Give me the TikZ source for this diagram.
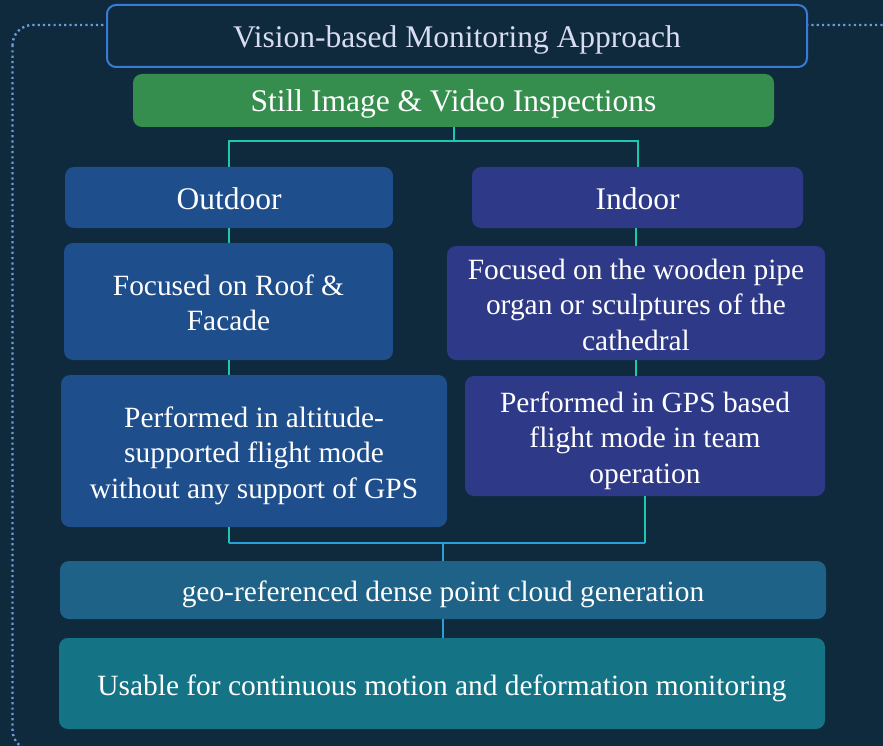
\documentclass[tikz,border=0pt]{standalone}
\usepackage{fontspec}
\setmainfont{Liberation Serif}
% fixed struts so every box centres its lines the same way
\newcommand\topstrut{\rule{0pt}{31pt}}
\newcommand\botstrut{\rule[-8pt]{0pt}{0pt}}
\begin{document}
\begin{tikzpicture}[x=1pt,y=-1pt,
  bx/.style={rounded corners=9pt, draw=none, align=center, text=white, inner sep=0pt},
  body/.style={font=\fontsize{29.4}{35.5}\selectfont},
  big/.style={font=\fontsize{31.5}{36}\selectfont},
  outc/.style={bx, fill=outblue},
  inc/.style={bx, fill=inblue},
  conn/.style={draw=linkteal, line width=2pt},
  mconn/.style={draw=linkblue, line width=2pt}]
\definecolor{bg}{HTML}{0F293D}
\definecolor{frame}{HTML}{6A9CDA}
\definecolor{titleline}{HTML}{3A7BD5}
\definecolor{titletext}{HTML}{D8DCF2}
\definecolor{green}{HTML}{358E4E}
\definecolor{outblue}{HTML}{1F4E8C}
\definecolor{inblue}{HTML}{2E3A87}
\definecolor{geoblue}{HTML}{1E6288}
\definecolor{usecol}{HTML}{147385}
\definecolor{linkteal}{HTML}{1CC8B0}
\definecolor{linkblue}{HTML}{2A9FD8}

% canvas
\fill[bg] (0,0) rectangle (883,746);
\useasboundingbox (0,0) rectangle (883,746);

% dotted outer frame, running off the right and bottom edges
\begin{scope}
\clip (0,0) rectangle (883,746);
\draw[frame, line width=2.4pt, dash pattern=on 2.2pt off 3.1pt, rounded corners=20pt] (12.5,25) rectangle (930,750);
\end{scope}

% header
\node[bx, draw=titleline, line width=2pt, fill=bg, text=titletext, big,
      minimum width=700pt, minimum height=62pt] (title) at (457,36) {\topstrut Vision-based Monitoring Approach\botstrut};
\node[bx, fill=green, big, minimum width=641pt, minimum height=53pt] (still) at (453.5,100.5) {\topstrut Still Image \& Video Inspections\botstrut};

% branches
\node[outc, big, minimum width=328pt, minimum height=61pt] (out) at (229,197.5) {\topstrut Outdoor\botstrut};
\node[inc, big, minimum width=331pt, minimum height=61pt] (ind) at (637.5,197.5) {\topstrut Indoor\botstrut};

\node[outc, body, minimum width=329pt, minimum height=117pt] (roof) at (228.5,301.5) {\topstrut Focused on Roof \&\\Facade\botstrut};
\node[inc, body, minimum width=378pt, minimum height=114pt] (pipe) at (636,303) {\topstrut Focused on the wooden pipe\\organ or sculptures of the\\cathedral\botstrut};

\node[outc, body, minimum width=386pt, minimum height=152pt] (alt) at (254,451) {\topstrut Performed in altitude-\\supported flight mode\\without any support of GPS\botstrut};
\node[inc, body, minimum width=360pt, minimum height=120pt] (gps) at (645,436) {\topstrut Performed in GPS based\\flight mode in team\\operation\botstrut};

% results
\node[bx, fill=geoblue, body, minimum width=766pt, minimum height=58pt] (geo) at (443,590) {\topstrut geo-referenced dense point cloud generation\botstrut};
\node[bx, fill=usecol, body, minimum width=766pt, minimum height=91pt] (use) at (442,683.5) {\topstrut Usable for continuous motion and deformation monitoring\botstrut};

% connectors: split
\coordinate (split) at (still.south |- 0,141);
\draw[conn] (still.south) -- (split);
\draw[conn] (out.north) |- (split) -| (ind.north);
\draw[conn] (out.south) -- (out.south |- roof.north);
\draw[conn] (pipe.north) -- (pipe.north |- ind.south);
\draw[conn] (roof.south) -- (roof.south |- alt.north);
\draw[conn] (pipe.south) -- (pipe.south |- gps.north);

% connectors: merge
\coordinate (merge) at (geo.north |- 0,543);
\draw[conn] (roof.south |- alt.south) -- (roof.south |- merge);
\draw[conn] (gps.south) -- (gps.south |- merge);
\draw[mconn] (roof.south |- merge) -- (gps.south |- merge);
\draw[mconn] (merge) -- (geo.north);
\draw[mconn] (geo.south) -- (geo.south |- use.north);
\end{tikzpicture}
\end{document}
